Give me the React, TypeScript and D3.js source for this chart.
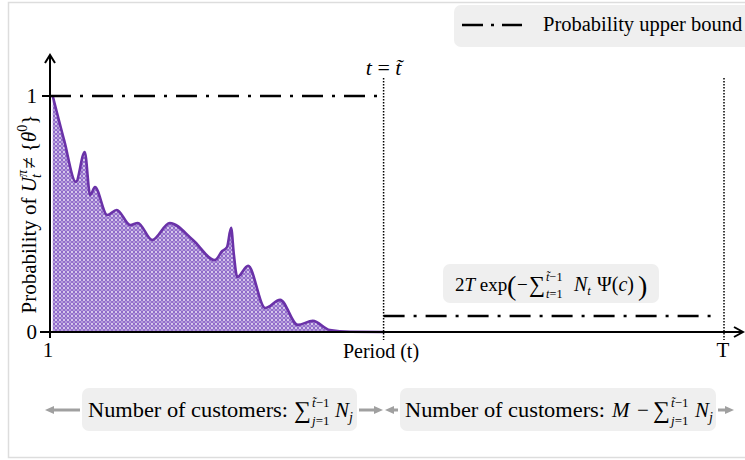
import React from 'react';
import { scaleLinear, line, area, curveMonotoneX } from 'd3';

// period axis and the estimated probability curve
const T = 100;
const tTilde = 50;
const periods = [1.4, 3.1, 4.8, 6.1, 6.9, 7.6, 9.4, 10.8, 12.8, 13.9, 16.0, 18.6, 22.0, 25.2, 26.3, 27.0, 27.6, 28.0, 28.5, 30.1, 32.6, 34.8, 37.4, 39.6, 42.1, 45.1, 49.9];
const probs = [1.0, 0.81, 0.636, 0.763, 0.58, 0.614, 0.496, 0.517, 0.453, 0.462, 0.39, 0.462, 0.39, 0.305, 0.343, 0.36, 0.441, 0.33, 0.233, 0.28, 0.102, 0.136, 0.03, 0.047, 0.008, 0.001, 0];

// upper bound pieces: [start, end, value]
const boundStart = [1, tTilde];
const boundEnd = [tTilde, 99.1];
const boundValue = [1, 0.068];

const yTicks = [0, 1];
const xTickLabels = ['1', 'T'];

const width = 745;
const height = 460;
const x0 = 50;
const xEnd = 724;
const yBottom = 332;
const yTop = 96;

const serif = '"Liberation Serif", "DejaVu Serif", serif';
const purple = '#6a32a8';
const gray = '#a0a0a0';
const boxFill = '#efefef';

// big sigma with stacked limits
const SumScripts: React.FC<{ x: number; y: number; sub: string; subVar: string; size?: number }> = ({ x, y, sub, subVar, size = 21 }) => {
  const s = size * 0.68;
  return (
    <g>
      <text x={x} y={y + 1} fontSize={size * 1.25}>∑</text>
      <text x={x + size * 0.95} y={y - size * 0.55} fontSize={s}>
        <tspan fontStyle='italic'>t̃</tspan>−1
      </text>
      <text x={x + size * 0.95} y={y + size * 0.4} fontSize={s}>
        <tspan fontStyle='italic'>{subVar}</tspan>={sub}
      </text>
    </g>
  );
};

export default function App() {
  const xScale = scaleLinear().domain([1, T]).range([x0, xEnd]);
  const yScale = scaleLinear().domain([0, 1]).range([yBottom, yTop]);

  const pts = periods.map((p, i) => [p, probs[i]] as [number, number]);
  const lineGen = line<[number, number]>()
    .x(d => xScale(d[0]))
    .y(d => yScale(d[1]))
    .curve(curveMonotoneX);
  const areaGen = area<[number, number]>()
    .x(d => xScale(d[0]))
    .y0(yScale(0))
    .y1(d => yScale(d[1]))
    .curve(curveMonotoneX);

  const xt = xScale(tTilde);
  const xT = xScale(T);

  return (
    <svg width={width} height={height} style={{ position: 'absolute', left: 0, top: 0 }} fontFamily={serif}>
      <defs>
        <pattern id='hatch' width={4} height={4} patternUnits='userSpaceOnUse'>
          <rect width={4} height={4} fill='#fff' />
          <circle cx={2} cy={2} r={1.4} fill='none' stroke='#7b4fc0' strokeWidth={1.15} />
        </pattern>
      </defs>
      <rect width={width} height={height} fill='#fff' />
      <rect x={8.5} y={2.5} width={800} height={455} fill='none' stroke='#ddd' strokeWidth={1.5} />

      {/* legend */}
      <rect x={454} y={5} width={320} height={42} rx={7} fill={boxFill} />
      <line x1={462} x2={522} y1={25} y2={25} stroke='#000' strokeWidth={2.5} strokeDasharray='21,8,3,8' />
      <text x={543} y={31} fontSize={20.5}>Probability upper bound</text>

      {/* area + curve */}
      <path d={areaGen(pts) || ''} fill='url(#hatch)' />
      <path d={lineGen(pts) || ''} fill='none' stroke={purple} strokeWidth={2.6} />

      {/* bounds */}
      {boundValue.map((v, i) => (
        <line
          key={i}
          x1={xScale(boundStart[i])}
          x2={xScale(boundEnd[i])}
          y1={yScale(v)}
          y2={yScale(v)}
          stroke='#000'
          strokeWidth={2.6}
          strokeDasharray='21,9,3,9'
        />
      ))}

      {/* vertical dotted lines */}
      {[xt, xT].map((vx, i) => (
        <line key={i} x1={vx} x2={vx} y1={78} y2={340} stroke='#000' strokeWidth={1.5} strokeDasharray='1.5,1.5' />
      ))}
      <text x={xt} y={75} fontSize={22} textAnchor='middle'>
        <tspan fontStyle='italic'>t</tspan> = <tspan fontStyle='italic'>t̃</tspan>
      </text>

      {/* axes */}
      <line x1={40} x2={743} y1={yBottom} y2={yBottom} stroke='#000' strokeWidth={2} />
      <polyline points={`734,327 743,332 734,337`} fill='none' stroke='#000' strokeWidth={2} />
      <line x1={x0} x2={x0} y1={338} y2={55} stroke='#000' strokeWidth={2} />
      <polyline points={`45,63 50,55 55,63`} fill='none' stroke='#000' strokeWidth={2} />
      {yTicks.map(t => (
        <g key={t}>
          <line x1={42} x2={56} y1={yScale(t)} y2={yScale(t)} stroke='#000' strokeWidth={2} />
          <text x={37} y={yScale(t) + 7} fontSize={21} textAnchor='end'>{t}</text>
        </g>
      ))}
      <text x={xScale(1) - 2} y={357} fontSize={21} textAnchor='middle'>{xTickLabels[0]}</text>
      <text x={xT - 1} y={357} fontSize={21} textAnchor='middle'>{xTickLabels[1]}</text>
      <text x={381} y={358} fontSize={20} textAnchor='middle'>Period (t)</text>

      {/* y label */}
      <text transform='translate(36,214) rotate(-90)' fontSize={21} textAnchor='middle'>
        Probability of <tspan fontStyle='italic'>U</tspan>
        <tspan fontSize={14} dy={-9} fontStyle='italic'>π</tspan>
        <tspan fontSize={14} dx={-8} dy={14} fontStyle='italic'>t</tspan>
        <tspan dy={-5}> ≠ {'{'}</tspan>
        <tspan fontStyle='italic'>θ</tspan>
        <tspan fontSize={14} dy={-9}>0</tspan>
        <tspan dy={9}>{'}'}</tspan>
      </text>

      {/* bound annotation */}
      <rect x={443} y={264} width={216} height={39} rx={7} fill={boxFill} />
      <text x={455} y={291} fontSize={19}>
        2<tspan fontStyle='italic'>T</tspan> exp
      </text>
      <text x={507} y={295} fontSize={28} fontWeight={300}>(</text>
      <text x={517} y={291} fontSize={19}>−</text>
      <SumScripts x={529} y={291} sub='1' subVar='t' size={18} />
      <text x={574} y={291} fontSize={20}>
        <tspan fontStyle='italic'>N</tspan>
        <tspan fontSize={13} dy={4} fontStyle='italic'>t</tspan>
      </text>
      <text x={597} y={291} fontSize={20}>
        Ψ(<tspan fontStyle='italic'>c</tspan>)
      </text>
      <text x={638} y={295} fontSize={28} fontWeight={300}>)</text>

      {/* bottom annotations */}
      <line x1={80} x2={52} y1={410} y2={410} stroke={gray} strokeWidth={3} />
      <polygon points='45,410 54,406 54,414' fill={gray} />
      <rect x={82} y={388} width={275} height={43} rx={7} fill={boxFill} />
      <text x={88} y={417} fontSize={21} textLength={200} lengthAdjust='spacingAndGlyphs'>Number of customers:</text>
      <SumScripts x={294} y={417} sub='1' subVar='j' size={19} />
      <text x={335} y={417} fontSize={21} fontStyle='italic'>
        N<tspan fontSize={14} dy={5}>j</tspan>
      </text>
      <line x1={359} x2={376} y1={410} y2={410} stroke={gray} strokeWidth={3} />
      <polygon points='383,410 374,406 374,414' fill={gray} />

      <line x1={398} x2={392} y1={410} y2={410} stroke={gray} strokeWidth={3} />
      <polygon points='385,410 394,406 394,414' fill={gray} />
      <rect x={400} y={388} width={316} height={43} rx={7} fill={boxFill} />
      <text x={405} y={417} fontSize={21} textLength={200} lengthAdjust='spacingAndGlyphs'>Number of customers:</text>
      <text x={612} y={417} fontSize={21} fontStyle='italic'>M</text>
      <text x={637} y={417} fontSize={21}>−</text>
      <SumScripts x={653} y={417} sub='1' subVar='j' size={19} />
      <text x={695} y={417} fontSize={21} fontStyle='italic'>
        N<tspan fontSize={14} dy={5}>j</tspan>
      </text>
      <line x1={718} x2={727} y1={410} y2={410} stroke={gray} strokeWidth={3} />
      <polygon points='734,410 725,406 725,414' fill={gray} />
    </svg>
  );
}
